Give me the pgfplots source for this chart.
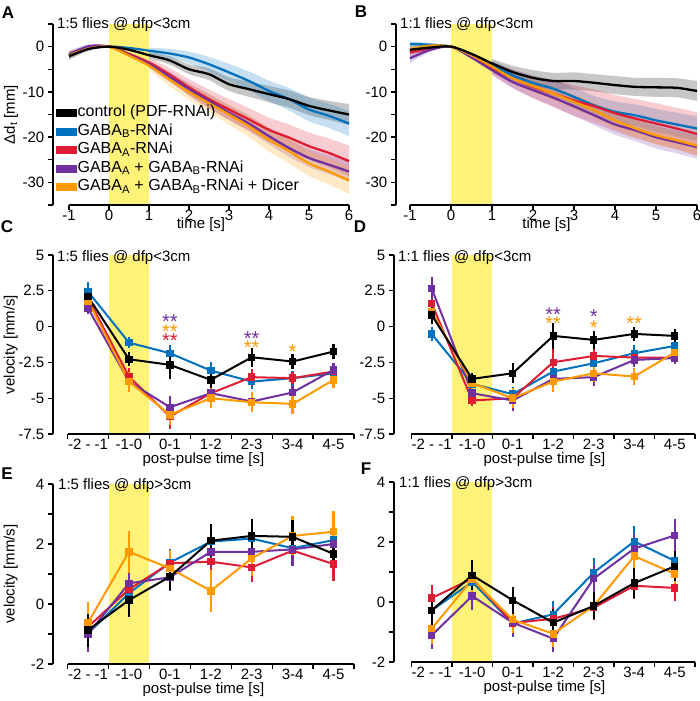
\documentclass[border=0pt]{standalone}
\usepackage{fontspec}
\setmainfont{Liberation Sans}
\usepackage{pgfplots}
\pgfplotsset{compat=1.18}
\usepgfplotslibrary{fillbetween}
\usepackage{pgfplotstable}

\definecolor{cblue}{RGB}{0,114,189}
\definecolor{cred}{RGB}{222,28,52}
\definecolor{cpurple}{RGB}{112,48,160}
\definecolor{corange}{RGB}{255,153,0}
\definecolor{cyel}{RGB}{255,242,120}

% Panel A tables
\pgfplotstableread{
t m e
-1 -2.1 0.8
-0.5 -0.5 0.4
0 0 0.1
0.5 -0.7 0.4
1 -1.9 0.7
1.5 -3.0 0.9
2 -5.0 1.1
2.5 -6.1 1.3
3 -8.3 1.5
3.5 -9.4 1.7
4 -10.5 1.8
4.5 -11.6 1.9
5 -13.1 2.0
5.5 -14.1 2.1
6 -15.0 2.3
}\tAk
\pgfplotstableread{
t m e
-1 -2.0 0.8
-0.5 -0.4 0.4
0 0 0.1
0.5 -0.3 0.4
1 -0.9 0.7
1.5 -1.5 1.0
2 -2.4 1.3
2.5 -3.9 1.6
3 -5.7 1.9
3.5 -7.6 2.1
4 -9.8 2.3
4.5 -11.6 2.5
5 -13.9 2.6
5.5 -15.3 2.7
6 -17.0 2.8
}\tAb
\pgfplotstableread{
t m e
-1 -1.8 0.8
-0.5 -0.3 0.4
0 0 0.1
0.5 -1.6 0.6
1 -3.5 1.0
1.5 -6.1 1.4
2 -9.0 1.8
2.5 -11.6 2.1
3 -13.9 2.3
3.5 -16.1 2.5
4 -18.4 2.7
4.5 -20.1 2.9
5 -22.0 3.0
5.5 -23.5 3.2
6 -25.3 3.4
}\tAr
\pgfplotstableread{
t m e
-1 -1.7 0.8
-0.5 0.1 0.4
0 0 0.1
0.5 -1.8 0.5
1 -3.9 0.8
1.5 -6.6 1.1
2 -9.4 1.3
2.5 -12.0 1.5
3 -14.6 1.6
3.5 -17.0 1.7
4 -19.8 1.8
4.5 -22.4 1.9
5 -24.6 2.0
5.5 -26.1 2.1
6 -27.6 2.2
}\tAp
\pgfplotstableread{
t m e
-1 -1.9 0.8
-0.5 -0.4 0.4
0 0 0.1
0.5 -2.0 0.6
1 -4.2 1.0
1.5 -7.2 1.4
2 -10.0 1.7
2.5 -12.5 2.0
3 -15.0 2.2
3.5 -17.6 2.4
4 -20.6 2.6
4.5 -23.1 2.7
5 -25.8 2.8
5.5 -27.6 2.9
6 -29.6 3.0
}\tAo
% Panel B tables
\pgfplotstableread{
t m e
-1 -0.7 1.0
-0.5 -0.2 0.5
0 0 0.1
0.5 -1.6 0.6
1 -3.7 1.0
1.5 -5.6 1.4
2 -6.9 1.7
2.5 -7.6 1.8
3 -7.6 1.9
3.5 -8.0 1.9
4 -8.5 2.0
4.5 -8.9 2.0
5 -9.0 2.1
5.5 -9.1 2.1
6 -9.8 2.2
}\tBk
\pgfplotstableread{
t m e
-1 0.6 0.6
-0.5 0.4 0.4
0 0 0.1
0.5 -1.9 0.6
1 -4.1 1.0
1.5 -6.3 1.3
2 -8.0 1.6
2.5 -9.3 1.8
3 -11.1 2.0
3.5 -13.0 2.1
4 -14.4 2.3
4.5 -15.2 2.4
5 -16.3 2.5
5.5 -17.2 2.6
6 -18.1 2.7
}\tBb
\pgfplotstableread{
t m e
-1 -1.3 1.0
-0.5 -0.4 0.5
0 0 0.1
0.5 -2.2 0.8
1 -4.8 1.4
1.5 -7.0 2.0
2 -8.9 2.5
2.5 -10.4 3.0
3 -11.9 3.4
3.5 -13.2 3.7
4 -14.7 4.0
4.5 -15.9 4.3
5 -17.0 4.5
5.5 -18.1 4.6
6 -19.3 4.8
}\tBr
\pgfplotstableread{
t m e
-1 -2.6 1.0
-0.5 -0.7 0.5
0 0 0.1
0.5 -2.4 0.6
1 -5.2 1.0
1.5 -7.8 1.4
2 -9.6 1.7
2.5 -11.3 1.9
3 -13.2 2.1
3.5 -15.2 2.2
4 -17.2 2.3
4.5 -18.5 2.4
5 -20.0 2.5
5.5 -21.1 2.5
6 -22.2 2.6
}\tBp
\pgfplotstableread{
t m e
-1 -0.6 0.6
-0.5 0.2 0.4
0 0 0.1
0.5 -1.9 0.5
1 -4.4 0.8
1.5 -7.0 1.1
2 -8.7 1.3
2.5 -10.4 1.5
3 -12.2 1.6
3.5 -14.1 1.7
4 -16.3 1.8
4.5 -18.1 1.9
5 -19.6 2.0
5.5 -20.7 2.0
6 -21.9 2.1
}\tBo

\newcommand\fs{\fontsize{15}{17}\selectfont}
\newcommand\fl{\fontsize{16}{18}\selectfont}
\newcommand\band[3]{%
  \addplot[draw=none, forget plot, smooth, name path=u#3] table[x=t, y expr=\thisrow{m}+\thisrow{e}] {#1};
  \addplot[draw=none, forget plot, smooth, name path=l#3] table[x=t, y expr=\thisrow{m}-\thisrow{e}] {#1};
  \addplot[fill=#2, fill opacity=0.22, draw=none, forget plot] fill between[of=u#3 and l#3];
}
\newcommand\tline[2]{%
  \addplot[#2, line width=2.3pt, smooth, forget plot] table[x=t, y=m] {#1};
}
\newcommand\stars[4]{\node[anchor=base, inner sep=0pt, yshift=-11.5pt, text=#1, font=\fontsize{20}{20}\selectfont] at (axis cs:#2,#3) {#4};}

\pgfplotsset{
  panel/.style={scale only axis, anchor=south west,
    axis y line*=left, axis x line*=bottom, x axis line style={draw=none},
    y axis line style={line width=1.3pt},
    tick align=outside, major tick length=5pt, minor tick length=5pt,
    tick style={black, line width=1.3pt},
    clip=false, font=\fs, tick label style={font=\fs}, label style={font=\fs},
    xticklabel style={yshift=5.5pt}, yticklabel style={xshift=1.5pt},
    xlabel style={at={(axis description cs:0.5,0)}, anchor=center},
    ylabel style={anchor=center},
  },
  timeax/.style={panel, width=296pt, height=181pt, xmin=-1.4, xmax=6, ymin=-35, ymax=5,
    xtick={-1,0,1,2,3,4,5,6}, xticklabels={-1,0,1,2,3,4,5,6},
    ytick={-30,-20,-10,0}, yticklabels={-30,-20,-10,0}, minor ytick={-35,-25,-15,-5,5},
    xlabel={time [s]}, xlabel style={yshift=-19.5pt}},
  catax/.style={panel, width=301pt, xmax=6.5,
    xtick={0,...,6}, xticklabels={-2 - -1,-1-0,0-1,1-2,2-3,3-4,4-5},
    minor xtick={-0.5,0.5,1.5,2.5,3.5,4.5,5.5,6.5}, major x tick style={draw=none},
    xlabel={post-pulse time [s]}, xlabel style={yshift=-26pt}},
  catp/.style={color=#1, line width=2pt, mark=square*, mark size=2.7pt, mark options={solid},
    error bars/.cd, y dir=both, y explicit, error bar style={line width=2.3pt, color=#1}, error mark=none},
}

\begin{document}
\fs
\begin{tikzpicture}

% ---------------- A
\begin{axis}[timeax, at={(53pt,496pt)},
  ylabel={Δd\textsubscript{t} [mm]}, ylabel style={at={(axis description cs:-0.142,0.5)}},
  legend style={at={(rel axis cs:0.0085,0.555)}, anchor=north west, draw=none, fill=none, inner sep=0pt,
    font=\fl, row sep=2pt, nodes={inner sep=1.5pt, text height=10.5pt, text depth=3pt}},
  legend cell align=left]
\fill[cyel] (axis cs:0,-35) rectangle (axis cs:1,5);
\band{\tAk}{black}{k}
\band{\tAb}{cblue}{b}
\band{\tAr}{cred}{r}
\band{\tAp}{cpurple}{p}
\band{\tAo}{corange}{o}
\tline{\tAb}{cblue}
\tline{\tAr}{cred}
\tline{\tAp}{cpurple}
\tline{\tAo}{corange}
\tline{\tAk}{black}
\draw[line width=1.3pt] (axis cs:-1,-35) -- (axis cs:6,-35);
\node[anchor=base west, inner sep=0pt] at (rel axis cs:0,1) [xshift=4pt, yshift=-5pt] {1:5 flies @ dfp<3cm};
\addlegendimage{legend image code/.code={\fill[black] (0pt,-3.5pt) rectangle (20pt,3.5pt);}}
\addlegendentry{control (PDF-RNAi)}
\addlegendimage{legend image code/.code={\fill[cblue] (0pt,-3.5pt) rectangle (20pt,3.5pt);}}
\addlegendentry{GABA\textsubscript{B}-RNAi}
\addlegendimage{legend image code/.code={\fill[cred] (0pt,-3.5pt) rectangle (20pt,3.5pt);}}
\addlegendentry{GABA\textsubscript{A}-RNAi}
\addlegendimage{legend image code/.code={\fill[cpurple] (0pt,-3.5pt) rectangle (20pt,3.5pt);}}
\addlegendentry{GABA\textsubscript{A} + GABA\textsubscript{B}-RNAi}
\addlegendimage{legend image code/.code={\fill[corange] (0pt,-3.5pt) rectangle (20pt,3.5pt);}}
\addlegendentry{GABA\textsubscript{A} + GABA\textsubscript{B}-RNAi + Dicer}
\end{axis}

% ---------------- B
\begin{axis}[timeax, at={(396pt,496pt)}, width=301pt, xmin=-1.34]
\fill[cyel] (axis cs:0,-35) rectangle (axis cs:1,5);
\band{\tBk}{black}{k}
\band{\tBb}{cblue}{b}
\band{\tBr}{cred}{r}
\band{\tBp}{cpurple}{p}
\band{\tBo}{corange}{o}
\tline{\tBb}{cblue}
\tline{\tBr}{cred}
\tline{\tBp}{cpurple}
\tline{\tBo}{corange}
\tline{\tBk}{black}
\draw[line width=1.3pt] (axis cs:-1,-35) -- (axis cs:6,-35);
\node[anchor=base west, inner sep=0pt] at (rel axis cs:0,1) [xshift=4pt, yshift=-5pt] {1:1 flies @ dfp<3cm};
\end{axis}

% ---------------- C
\begin{axis}[catax, at={(53pt,267pt)}, height=179pt, xmin=-0.857, ymin=-7.5, ymax=5,
  ytick={-7.5,-5,-2.5,0,2.5,5}, yticklabels={-7.5,-5,-2.5,0,2.5,5},
  ylabel={velocity [mm/s]}, ylabel style={at={(axis description cs:-0.14,0.5)}}]
\fill[cyel] (axis cs:0.5,-7.5) rectangle (axis cs:1.5,5);
\addplot[catp=cblue] coordinates {(0,2.44)+-(0,0.7) (1,-1.12)+-(0,0.4) (2,-1.86)+-(0,0.6) (3,-3.07)+-(0,0.6) (4,-3.84)+-(0,0.5) (5,-3.6)+-(0,0.5) (6,-3.26)+-(0,0.4)};
\addplot[catp=cred] coordinates {(0,1.98)+-(0,0.5) (1,-3.49)+-(0,0.6) (2,-6.28)+-(0,0.9) (3,-4.65)+-(0,0.5) (4,-3.53)+-(0,0.6) (5,-3.6)+-(0,0.4) (6,-3.14)+-(0,0.4)};
\addplot[catp=cpurple] coordinates {(0,1.28)+-(0,0.4) (1,-3.84)+-(0,0.6) (2,-5.63)+-(0,0.8) (3,-4.65)+-(0,0.5) (4,-5.23)+-(0,0.5) (5,-4.6)+-(0,0.5) (6,-3.02)+-(0,0.5)};
\addplot[catp=corange] coordinates {(0,1.79)+-(0,0.5) (1,-3.84)+-(0,0.7) (2,-6.16)+-(0,0.7) (3,-5.0)+-(0,0.7) (4,-5.28)+-(0,0.7) (5,-5.4)+-(0,0.7) (6,-3.72)+-(0,0.6)};
\addplot[catp=black] coordinates {(0,2.09)+-(0,0.4) (1,-2.28)+-(0,0.5) (2,-2.67)+-(0,1.0) (3,-3.72)+-(0,0.6) (4,-2.14)+-(0,0.65) (5,-2.44)+-(0,0.5) (6,-1.74)+-(0,0.5)};
\draw[line width=1.3pt] (axis cs:-0.5,-7.5) -- (axis cs:6.5,-7.5);
\node[anchor=base west, inner sep=0pt] at (rel axis cs:0,1) [xshift=4pt, yshift=-7pt] {1:5 flies @ dfp<3cm};
\stars{cpurple}{2}{0.65}{**}
\stars{corange}{2}{0.0}{**}
\stars{cred}{2}{-0.65}{**}
\stars{cpurple}{4}{-0.5}{**}
\stars{corange}{4}{-1.16}{**}
\stars{corange}{5}{-1.44}{*}
\end{axis}

% ---------------- D
\begin{axis}[catax, at={(394pt,267pt)}, height=179pt, xmin=-0.93, ymin=-7.5, ymax=5,
  ytick={-7.5,-5,-2.5,0,2.5,5}, yticklabels={-7.5,-5,-2.5,0,2.5,5}]
\fill[cyel] (axis cs:0.5,-7.5) rectangle (axis cs:1.5,5);
\addplot[catp=cblue] coordinates {(0,-0.51)+-(0,0.5) (1,-4.0)+-(0,0.5) (2,-4.72)+-(0,0.5) (3,-3.14)+-(0,0.7) (4,-2.56)+-(0,0.5) (5,-1.86)+-(0,0.6) (6,-1.35)+-(0,0.5)};
\addplot[catp=cred] coordinates {(0,1.63)+-(0,0.6) (1,-5.16)+-(0,0.4) (2,-5.0)+-(0,0.6) (3,-2.49)+-(0,0.9) (4,-2.05)+-(0,0.5) (5,-2.16)+-(0,0.4) (6,-2.16)+-(0,0.4)};
\addplot[catp=cpurple] coordinates {(0,2.67)+-(0,0.8) (1,-4.65)+-(0,0.5) (2,-5.16)+-(0,0.7) (3,-3.65)+-(0,0.6) (4,-3.53)+-(0,0.6) (5,-2.33)+-(0,0.5) (6,-2.2)+-(0,0.4)};
\addplot[catp=corange] coordinates {(0,1.05)+-(0,0.6) (1,-3.95)+-(0,0.5) (2,-5.0)+-(0,0.7) (3,-3.84)+-(0,0.7) (4,-3.26)+-(0,0.6) (5,-3.49)+-(0,0.6) (6,-1.81)+-(0,0.5)};
\addplot[catp=black] coordinates {(0,0.81)+-(0,0.6) (1,-3.65)+-(0,0.4) (2,-3.26)+-(0,0.7) (3,-0.65)+-(0,0.9) (4,-0.93)+-(0,0.6) (5,-0.51)+-(0,0.5) (6,-0.65)+-(0,0.5)};
\draw[line width=1.3pt] (axis cs:-0.5,-7.5) -- (axis cs:6.5,-7.5);
\node[anchor=base west, inner sep=0pt] at (rel axis cs:0,1) [xshift=4pt, yshift=-7pt] {1:1 flies @ dfp<3cm};
\stars{cpurple}{3}{1.16}{**}
\stars{corange}{3}{0.51}{**}
\stars{cpurple}{4}{1.05}{*}
\stars{corange}{4}{0.23}{*}
\stars{corange}{5}{0.51}{**}
\end{axis}

% ---------------- E
\begin{axis}[catax, at={(53pt,37pt)}, height=180pt, xmin=-0.857, ymin=-2, ymax=4,
  ytick={-2,0,2,4}, yticklabels={-2,0,2,4}, minor ytick={-1,1,3},
  ylabel={velocity [mm/s]}, ylabel style={at={(axis description cs:-0.14,0.5)}}]
\fill[cyel] (axis cs:0.5,-2) rectangle (axis cs:1.5,4);
\addplot[catp=cblue] coordinates {(0,-0.98)+-(0,0.5) (1,0.36)+-(0,0.5) (2,1.38)+-(0,0.45) (3,2.08)+-(0,0.5) (4,2.18)+-(0,0.45) (5,1.86)+-(0,0.5) (6,2.13)+-(0,0.4)};
\addplot[catp=cred] coordinates {(0,-0.76)+-(0,0.5) (1,0.49)+-(0,0.5) (2,1.36)+-(0,0.45) (3,1.41)+-(0,0.6) (4,1.22)+-(0,0.5) (5,1.78)+-(0,0.5) (6,1.33)+-(0,0.55)};
\addplot[catp=cpurple] coordinates {(0,-1.0)+-(0,0.6) (1,0.69)+-(0,0.45) (2,0.89)+-(0,0.45) (3,1.74)+-(0,0.5) (4,1.74)+-(0,0.5) (5,1.82)+-(0,0.55) (6,2.0)+-(0,0.5)};
\addplot[catp=corange] coordinates {(0,-0.62)+-(0,0.7) (1,1.74)+-(0,0.7) (2,1.19)+-(0,0.6) (3,0.44)+-(0,0.7) (4,1.52)+-(0,0.6) (5,2.27)+-(0,0.65) (6,2.41)+-(0,0.7)};
\addplot[catp=black] coordinates {(0,-0.87)+-(0,0.55) (1,0.13)+-(0,0.55) (2,0.91)+-(0,0.45) (3,2.11)+-(0,0.55) (4,2.27)+-(0,0.55) (5,2.24)+-(0,0.55) (6,1.67)+-(0,0.45)};
\draw[line width=1.3pt] (axis cs:-0.5,-2) -- (axis cs:6.5,-2);
\node[anchor=base west, inner sep=0pt] at (rel axis cs:0,1) [xshift=5pt, yshift=-5pt] {1:5 flies @ dfp>3cm};
\end{axis}

% ---------------- F
\begin{axis}[catax, at={(394pt,39pt)}, height=180pt, xmin=-0.93, ymin=-2, ymax=4,
  ytick={-2,0,2,4}, yticklabels={-2,0,2,4}, minor ytick={-1,1,3}]
\fill[cyel] (axis cs:0.5,-2) rectangle (axis cs:1.5,4);
\addplot[catp=cblue] coordinates {(0,-0.28)+-(0,0.45) (1,0.67)+-(0,0.45) (2,-0.72)+-(0,0.45) (3,-0.41)+-(0,0.45) (4,0.98)+-(0,0.5) (5,2.02)+-(0,0.5) (6,1.37)+-(0,0.45)};
\addplot[catp=cred] coordinates {(0,0.13)+-(0,0.45) (1,0.78)+-(0,0.4) (2,-0.7)+-(0,0.4) (3,-0.56)+-(0,0.4) (4,-0.19)+-(0,0.4) (5,0.54)+-(0,0.45) (6,0.47)+-(0,0.45)};
\addplot[catp=cpurple] coordinates {(0,-1.11)+-(0,0.45) (1,0.2)+-(0,0.45) (2,-0.69)+-(0,0.45) (3,-1.22)+-(0,0.45) (4,0.78)+-(0,0.45) (5,1.78)+-(0,0.5) (6,2.22)+-(0,0.55)};
\addplot[catp=corange] coordinates {(0,-0.89)+-(0,0.5) (1,0.75)+-(0,0.45) (2,-0.59)+-(0,0.45) (3,-1.06)+-(0,0.45) (4,-0.13)+-(0,0.45) (5,1.53)+-(0,0.45) (6,0.94)+-(0,0.45)};
\addplot[catp=black] coordinates {(0,-0.28)+-(0,0.5) (1,0.89)+-(0,0.5) (2,0.06)+-(0,0.45) (3,-0.69)+-(0,0.45) (4,-0.13)+-(0,0.45) (5,0.63)+-(0,0.5) (6,1.19)+-(0,0.5)};
\draw[line width=1.3pt] (axis cs:-0.5,-2) -- (axis cs:6.5,-2);
\node[anchor=base west, inner sep=0pt] at (rel axis cs:0,1) [xshift=5pt, yshift=-5pt] {1:1 flies @ dfp>3cm};
\end{axis}

% panel letters
\node[font=\bfseries\fontsize{17}{17}\selectfont] at (8pt,688pt) {A};
\node[font=\bfseries\fontsize{17}{17}\selectfont] at (361pt,689pt) {B};
\node[font=\bfseries\fontsize{17}{17}\selectfont] at (7pt,474pt) {C};
\node[font=\bfseries\fontsize{17}{17}\selectfont] at (360pt,474pt) {D};
\node[font=\bfseries\fontsize{17}{17}\selectfont] at (7pt,227pt) {E};
\node[font=\bfseries\fontsize{17}{17}\selectfont] at (366pt,232pt) {F};
\pgfresetboundingbox
\path (0pt,0pt) rectangle (700pt,701pt);
\end{tikzpicture}
\end{document}
